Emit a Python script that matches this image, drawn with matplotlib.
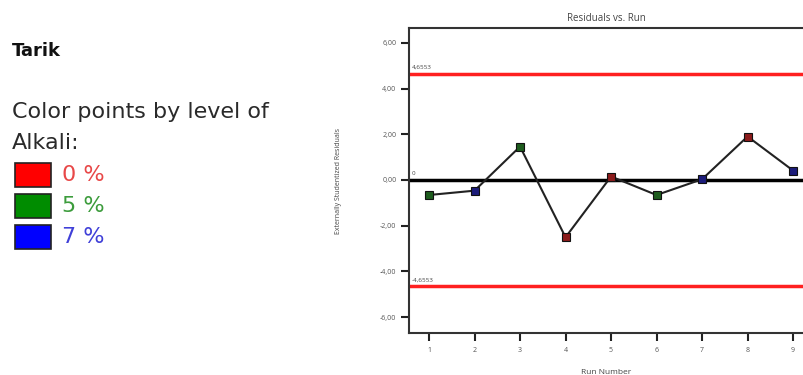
import numpy as np
import matplotlib.pyplot as plt

runs = [1, 2, 3, 4, 5, 6, 7, 8, 9]
residuals = [-0.66, -0.47, 1.46, -2.51, 0.15, -0.66, 0.03, 1.90, 0.41]
alkali = ['5 %', '7 %', '5 %', '0 %', '0 %', '5 %', '7 %', '0 %', '7 %']
levels = ['0 %', '5 %', '7 %']
limit = 4.6553
yticks = [-6, -4, -2, 0, 2, 4, 6]

point_col = {'0 %': '#8c1c1c', '5 %': '#1d5c1d', '7 %': '#1c1c7a'}
box_col = {'0 %': '#ff0000', '5 %': '#008c00', '7 %': '#0000ff'}
text_col = {'0 %': '#e84848', '5 %': '#3c9c3c', '7 %': '#4040d8'}

fig = plt.figure(figsize=(8.04, 3.75), dpi=100)
plt.rcParams['font.family'] = ['Open Sans', 'DejaVu Sans']

# left panel text
side = ['DejaVu Sans']
fig.text(12/804, 1 - 51/375, 'Tarik', fontsize=13, fontweight='bold', va='center', color='#111111', family=side)
fig.text(12/804, 1 - 112/375, 'Color points by level of', fontsize=16, va='center', color='#2a2a2a', family=side)
fig.text(12/804, 1 - 143/375, 'Alkali:', fontsize=16, va='center', color='#2a2a2a', family=side)
for i, lev in enumerate(levels):
    yc = 175 + i * 31
    fig.patches.append(plt.Rectangle((15/804, 1 - (yc + 12)/375), 36/804, 24/375,
                                     transform=fig.transFigure, facecolor=box_col[lev],
                                     edgecolor='#222222', lw=1.2))
    fig.text(62/804, 1 - yc/375, lev, fontsize=16, va='center', color=text_col[lev], family=side)

ax = fig.add_axes([409/804, 42/375, 395/804, 305/375])
ax.plot(runs, residuals, color='#222222', lw=1.5, zorder=3)
for r, v, a in zip(runs, residuals, alkali):
    ax.plot(r, v, 's', ms=6, mfc=point_col[a], mec='#111111', mew=0.8, zorder=4)

ax.axhline(limit, color='#ff2020', lw=2.5, zorder=2)
ax.axhline(-limit, color='#ff2020', lw=2.5, zorder=2)
ax.axhline(0, color='black', lw=2.5, zorder=2)
ax.text(0.62, limit + 0.2, '4,6553', fontsize=4.5, color='#444444')
ax.text(0.62, -limit + 0.2, '-4,6553', fontsize=4.5, color='#444444')
ax.text(0.62, 0.2, '0', fontsize=4.5, color='#444444')

ax.set_xlim(0.56, 9.24)
ax.set_ylim(-6.7, 6.65)
ax.set_xticks(runs)
ax.set_xticklabels([str(r) for r in runs])
ax.set_yticks(yticks)
ax.set_yticklabels([('%.2f' % t).replace('.', ',') for t in yticks])
ax.tick_params(direction='out', length=6, width=1.5, labelsize=5, labelcolor='#555555', colors='#222222')
ax.tick_params(axis='y', pad=3)
ax.tick_params(axis='x', pad=4)
for s in ['left', 'bottom', 'top']:
    ax.spines[s].set_linewidth(1.5)
    ax.spines[s].set_color('#333333')
ax.spines['right'].set_visible(False)

ax.set_title('Residuals vs. Run', fontsize=7, color='#444444', pad=5)
ax.set_xlabel('Run Number', fontsize=6, color='#444444')
ax.set_ylabel('Externally Studentized Residuals', fontsize=5, color='#444444')
ax.xaxis.set_label_coords(0.5, -0.118)
ax.yaxis.set_label_coords(-0.17, 0.5)

fig.savefig('out.png', dpi=100)
